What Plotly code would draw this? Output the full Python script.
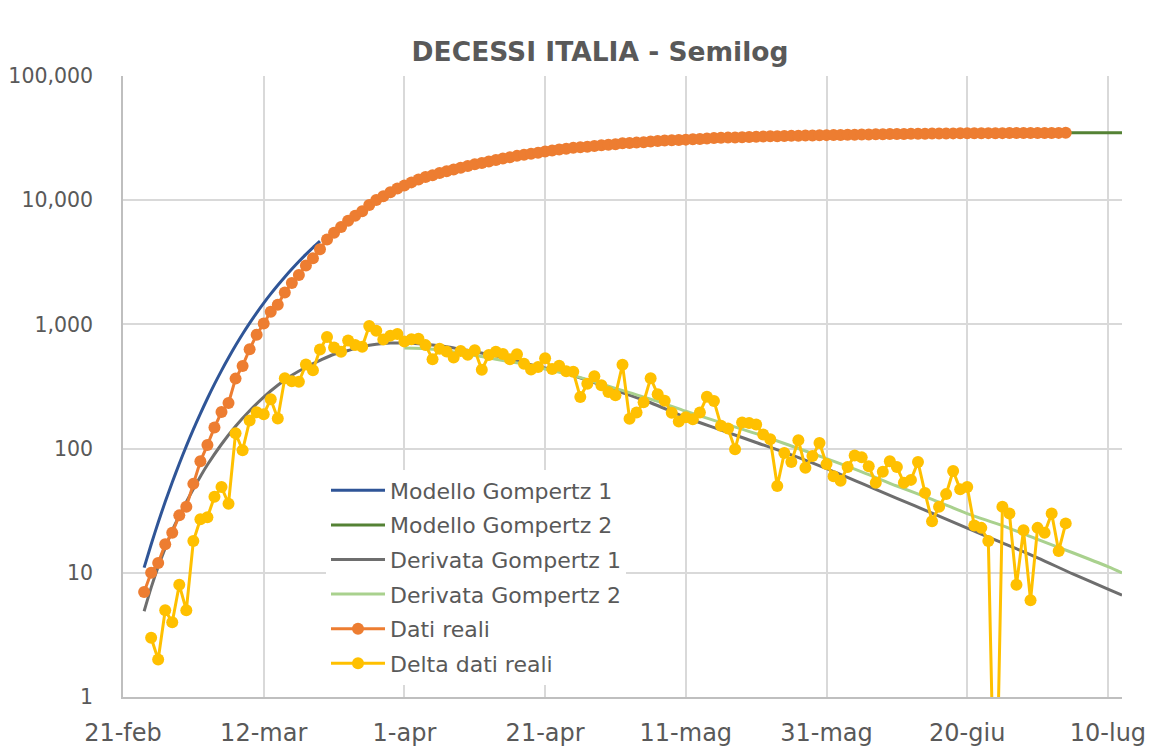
import pandas as pd
import plotly.graph_objects as go

# ---------------- data ----------------
ORIGIN = pd.Timestamp("2020-02-21")

# Cumulative deaths ("Dati reali"), daily from 24-feb to 4-lug
dati_reali_start = "2020-02-24"
dati_reali = [
    7, 10, 12, 17, 21, 29,
    34, 52, 79, 107, 148, 197, 233, 366, 463, 631, 827, 1016, 1266, 1441, 1809,
    2158, 2503, 2978, 3405, 4032, 4825, 5476, 6077, 6820, 7503, 8165, 9134,
    10023, 10779, 11591, 12428,
    13155, 13915, 14681, 15362, 15887, 16523, 17127, 17669, 18279, 18849, 19468,
    19899, 20465, 21067, 21645, 22170, 22745, 23227, 23660, 24114, 24648, 25085,
    25549, 25969, 26384, 26644, 26977, 27359, 27682, 27967,
    28236, 28710, 28884, 29079, 29315, 29684, 29958, 30201, 30395, 30560, 30739,
    30911, 31106, 31368, 31610, 31763, 31908, 32007, 32169, 32330, 32486, 32616,
    32735, 32785, 32877, 32955, 33072, 33142, 33229, 33340, 33415,
    33475, 33530, 33601, 33689, 33774, 33846, 33899, 33964, 34043, 34114, 34167,
    34223, 34301, 34345, 34371, 34405, 34448, 34514, 34561, 34610, 34634, 34657,
    34675, 34644, 34678, 34708, 34716, 34738, 34744, 34767,
    34788, 34818, 34833, 34858,
]

# Daily deaths ("Delta dati reali"), from 25-feb to 4-lug
# (24-giu is negative in the source; it is drawn below the log axis floor)
delta_start = "2020-02-25"
delta_dati_reali = [
    3, 2, 5, 4, 8,
    5, 18, 27, 28, 41, 49, 36, 133, 97, 168, 196, 189, 250, 175, 368, 349, 345,
    475, 427, 627, 793, 651, 601, 743, 683, 662, 969, 889, 756, 812, 837,
    727, 760, 766, 681, 525, 636, 604, 542, 610, 570, 619, 431, 566, 602, 578,
    525, 575, 482, 433, 454, 534, 437, 464, 420, 415, 260, 333, 382, 323, 285,
    269, 474, 174, 195, 236, 369, 274, 243, 194, 165, 179, 172, 195, 262, 242,
    153, 145, 99, 162, 161, 156, 130, 119, 50, 92, 78, 117, 70, 87, 111, 75,
    60, 55, 71, 88, 85, 72, 53, 65, 79, 71, 53, 56, 78, 44, 26, 34, 43, 66, 47,
    49, 24, 23, 18, 0.05, 34, 30, 8, 22, 6, 23,
    21, 30, 15, 25,
]

# Model curves, sampled by eye (x = days after 21-feb)
gomp1_days = list(range(3, 29))
gomp1_vals = [11.0, 16.9, 25.4, 37.3, 53.5, 75.5, 104.6, 142.7, 191.3, 253.1,
              330.1, 424.6, 538.5, 675.1, 836.3, 1024, 1240, 1484, 1759, 2065,
              2409, 2790, 3209, 3664, 4155, 4680]

gomp2_days = [40, 45, 50, 55, 60, 65, 70, 75, 80, 85, 90, 95, 100, 105, 110,
              115, 120, 125, 130, 135, 142]
gomp2_vals = [13300, 16600, 19600, 22200, 24300, 26100, 27600, 28900, 30000,
              30900, 31700, 32400, 33000, 33500, 33900, 34250, 34500, 34700,
              34850, 34950, 35000]

der1_days = [3, 4, 5, 6, 7, 8, 9, 10, 11, 12, 14, 16, 18, 20, 22, 24, 26, 28,
             30, 32, 34, 36, 38, 40, 42, 44, 46, 48, 50, 54, 58, 62, 66, 70,
             75, 80, 85, 90, 95, 100, 105, 110, 115, 120, 125, 130, 135, 140,
             142]
der1_vals = [4.9, 7.6, 11.2, 15.8, 21.9, 28.8, 37.2, 47.3, 59.6, 74.1, 108.4,
             151.4, 201.8, 260, 323.6, 389, 451.9, 513, 575, 617, 661, 692,
             708, 708, 700, 684, 661, 631, 603, 543, 473, 417, 355, 295, 234,
             178, 141, 112, 89, 69, 52.5, 39.8, 30.2, 22.9, 17.4, 13.2, 9.8,
             7.4, 6.6]

der2_days = [40, 44, 48, 52, 56, 60, 64, 68, 72, 76, 80, 85, 90, 95, 100, 105,
             110, 115, 120, 125, 130, 135, 140, 142]
der2_vals = [646, 631, 589, 537, 490, 437, 389, 331, 282, 240, 200, 162, 132,
             105, 83, 65, 50, 39, 30, 24, 18.6, 14.5, 11.2, 10]

x_tick_days = [0, 20, 40, 60, 80, 100, 120, 140]
x_tick_labels = ["21-feb", "12-mar", "1-apr", "21-apr", "11-mag", "31-mag",
                 "20-giu", "10-lug"]
y_tick_vals = [1, 10, 100, 1000, 10000, 100000]
y_tick_labels = ["1", "10", "100", "1,000", "10,000", "100,000"]

# ---------------- helpers ----------------
def days_to_dates(days):
    return [ORIGIN + pd.Timedelta(days=d) for d in days]

dates_cum = pd.date_range(dati_reali_start, periods=len(dati_reali), freq="D")
dates_delta = pd.date_range(delta_start, periods=len(delta_dati_reali), freq="D")

FONT = "DejaVu Sans"
TXT = "#595959"

fig = go.Figure()

def model_trace(name, days, vals, color, width):
    fig.add_trace(go.Scatter(
        x=days_to_dates(days), y=vals, mode="lines", name=name,
        legendgroup=name,
        line=dict(color=color, width=width, shape="spline", smoothing=0.8),
        hoverinfo="skip",
    ))

model_trace("Modello Gompertz 1", gomp1_days, gomp1_vals, "#2F5597", 3)
model_trace("Modello Gompertz 2", gomp2_days, gomp2_vals, "#548235", 3)
model_trace("Derivata Gompertz 1", der1_days, der1_vals, "#6E6E6E", 3)
model_trace("Derivata Gompertz 2", der2_days, der2_vals, "#A9D18E", 3)

fig.add_trace(go.Scatter(
    x=dates_cum, y=dati_reali, mode="lines+markers", name="Dati reali",
    legendgroup="Dati reali",
    line=dict(color="#ED7D31", width=3),
    marker=dict(color="#ED7D31", size=12),
))
fig.add_trace(go.Scatter(
    x=dates_delta, y=delta_dati_reali, mode="lines+markers",
    name="Delta dati reali", legendgroup="Delta dati reali",
    line=dict(color="#FFC000", width=3),
    marker=dict(color="#FFC000", size=12),
))

# ---------------- geometry ----------------
# The page adds an 8px body margin, so the figure is sized/offset to land
# the plot area at the reference's page pixels.
OFF = 8
PAGE_W, PAGE_H = 1160, 747
W, H = PAGE_W - OFF, PAGE_H - OFF
PLOT_L, PLOT_R, PLOT_T, PLOT_B = 123, 1122, 76, 697   # page pixels
L, T = PLOT_L - OFF, PLOT_T - OFF
R, B = PAGE_W - PLOT_R, PAGE_H - PLOT_B
PW, PH = W - L - R, H - T - B

def px_x(page_x):
    return (page_x - PLOT_L) / PW

def px_y(page_y):
    return (PLOT_B - page_y) / PH

fig.update_layout(
    width=W, height=H,
    margin=dict(l=L, r=R, t=T, b=B, autoexpand=False),
    paper_bgcolor="white", plot_bgcolor="white",
    font=dict(family=FONT, color=TXT),
    title=dict(
        text="<b>DECESSI ITALIA - Semilog</b>",
        font=dict(family=FONT, size=26.5, color=TXT),
        xref="container", x=(600 - OFF) / W, xanchor="center",
        yref="container", y=1 - (52 - OFF) / H, yanchor="middle",
        automargin=False,
    ),
    xaxis=dict(
        type="date", automargin=False,
        range=[ORIGIN, ORIGIN + pd.Timedelta(days=142)],
        tickvals=days_to_dates(x_tick_days), ticktext=x_tick_labels,
        showgrid=True, gridcolor="#D9D9D9", gridwidth=1.5,
        showline=True, linecolor="#BFBFBF", linewidth=1.5,
        zeroline=False, ticks="",
        tickfont=dict(family=FONT, size=24, color=TXT),
        ticklabelstandoff=13,
    ),
    yaxis=dict(
        type="log", range=[0, 5], automargin=False,
        tickvals=y_tick_vals, ticktext=y_tick_labels,
        showgrid=True, gridcolor="#D9D9D9", gridwidth=1.5,
        showline=True, linecolor="#BFBFBF", linewidth=1.5,
        zeroline=False, ticks="",
        tickfont=dict(family=FONT, size=20.5, color=TXT),
        ticklabelstandoff=24,
    ),
    legend=dict(
        x=px_x(326), y=px_y(469.5),
        xanchor="left", yanchor="top",
        bgcolor="white", borderwidth=0,
        font=dict(family=FONT, size=22, color=TXT),
        tracegroupgap=3, itemwidth=54,
    ),
    showlegend=True,
)

# white legend panel (hides the gridlines behind the legend, below the traces)
fig.add_shape(type="rect", xref="paper", yref="paper", layer="below",
              x0=px_x(303), x1=px_x(628), y0=px_y(682), y1=px_y(473),
              fillcolor="white", line=dict(width=0))

fig.write_html("out.html")
